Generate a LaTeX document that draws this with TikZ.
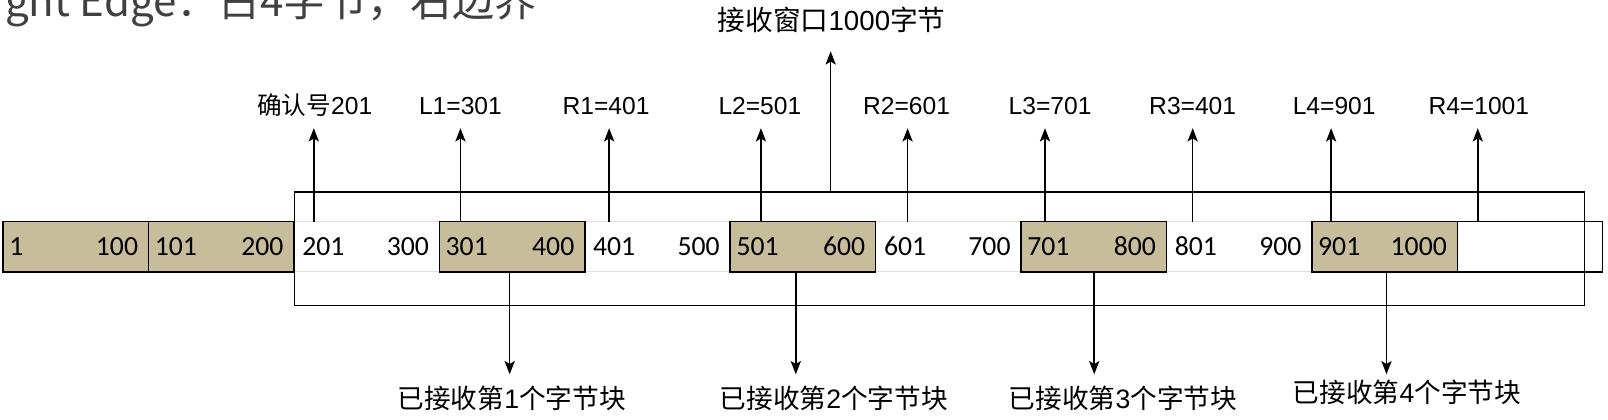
\documentclass[tikz,border=0pt]{standalone}
\usepackage{fontspec}
\setmainfont{Liberation Sans}
\newfontfamily\cjk{Noto Sans CJK SC}
\newfontfamily\cellfont{Carlito}
\usetikzlibrary{arrows.meta}
\definecolor{cellfill}{RGB}{199,189,154}
\definecolor{hdrgray}{RGB}{64,64,64}
\definecolor{faint}{RGB}{224,224,214}
\tikzset{
  arr/.style={line width=1.5pt, -{Stealth[length=13pt,width=10pt,inset=3pt]}},
  cellbox/.style={minimum width=141.8pt, minimum height=49pt, inner sep=0pt, outer sep=0pt, anchor=north west},
  shaded/.style={cellbox, fill=cellfill, draw=black, line width=1.5pt},
  plain/.style={cellbox},
  lastcell/.style={cellbox, draw=black, line width=1.5pt},
  num/.style={font=\cellfont\fontsize{27}{27}\selectfont, inner sep=0pt},
  lbl/.style={font=\fontsize{24}{24}\selectfont, inner sep=0pt, anchor=base},
  blbl/.style={font=\fontsize{26}{26}\selectfont, inner sep=0pt},
  winbox/.style={draw=black, line width=1.5pt, minimum width=1258pt, minimum height=111pt, inner sep=0pt, outer sep=0pt, anchor=north west},
}
\begin{document}
\begin{tikzpicture}[x=1pt,y=-1pt]
\useasboundingbox (0,0) rectangle (1568,408.6);
\clip (0,0) rectangle (1568,408.6);

% header (cut off at top)
\node[font=\cjk\fontsize{41}{41}\selectfont, text=hdrgray, anchor=base east, inner sep=0pt] (hdr) at (523,16) {ght Edge：占4字节，右边界};

% white cells with faint borders
\foreach \i/\a/\b in {2/201/300,4/401/500,6/601/700,8/801/900} {
  \node[plain] (c\i) at ({3+141.8*\i},216) {};
  \draw[faint, line width=1pt] (c\i.north west) -- (c\i.north east) (c\i.south west) -- (c\i.south east);
  \node[num, anchor=west] (l\i) at ([xshift=8pt]c\i.west) {\a};
  \node[num, anchor=east] (r\i) at ([xshift=-10pt]c\i.east) {\b};
}
% shaded cells
\foreach \i/\a/\b in {0/1/100,1/101/200,3/301/400,5/501/600,7/701/800,9/901/1000} {
  \node[shaded] (c\i) at ({3+141.8*\i},216) {};
  \node[num, anchor=west] (l\i) at ([xshift=6pt]c\i.west) {\a};
  \node[num, anchor=east] (r\i) at ([xshift=-10pt]c\i.east) {\b};
}
\node[lastcell] (c10) at ({3+141.8*10},216) {};

% receive window
\node[winbox] (win) at (287,187) {};
\node[font=\fontsize{27}{27}\selectfont, inner sep=0pt] (wlbl) at (811,19) {{\cjk 接收窗口}1000{\cjk 字节}};
\coordinate (ws) at (810,187);
\coordinate (we) at (810,50);
\draw[arr] (ws) -- (we);

% top labels and arrows
\node[lbl] (t0) at (307,112) {{\cjk 确认号}201};
\node[lbl] (t1) at (449,112) {L1=301};
\node[lbl] (t2) at (591,112) {R1=401};
\node[lbl] (t3) at (741,112) {L2=501};
\node[lbl] (t4) at (884,112) {R2=601};
\node[lbl] (t5) at (1024,112) {L3=701};
\node[lbl] (t6) at (1163,112) {R3=401};
\node[lbl] (t7) at (1301,112) {L4=901};
\node[lbl] (t8) at (1442,112) {R4=1001};
\foreach \k/\x in {0/306,1/449,2/594,3/742,4/885,5/1019,6/1163,7/1298,8/1441} {
  \coordinate (us\k) at (\x,216);
  \coordinate (ue\k) at (\x,125);
  \draw[arr] (us\k) -- (ue\k);
}

% bottom labels and arrows
\node[blbl] (b1) at (499,388) {{\cjk 已接收第}1{\cjk 个字节块}};
\node[blbl] (b2) at (813,388) {{\cjk 已接收第}2{\cjk 个字节块}};
\node[blbl] (b3) at (1095,388) {{\cjk 已接收第}3{\cjk 个字节块}};
\node[blbl] (b4) at (1372,383) {{\cjk 已接收第}4{\cjk 个字节块}};
\foreach \k/\x in {1/497,2/776,3/1067,4/1352} {
  \coordinate (ds\k) at (\x,265);
  \coordinate (de\k) at (\x,365);
  \draw[arr] (ds\k) -- (de\k);
}
\end{tikzpicture}
\end{document}
